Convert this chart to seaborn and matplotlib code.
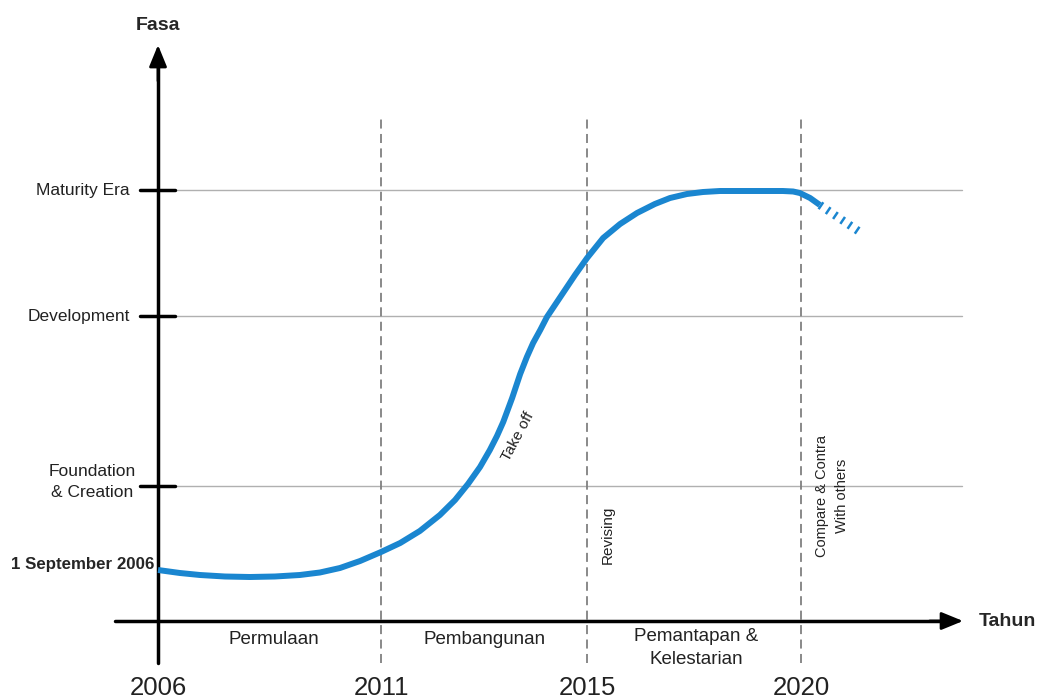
import matplotlib
matplotlib.use("Agg")
import matplotlib.pyplot as plt
import seaborn as sns
import pandas as pd

sns.set_theme(style="white")
plt.rcParams["font.family"] = ["Liberation Sans", "DejaVu Sans"]

# ---- data (x: timeline units, 2006 = 0; y: phase height units) ----
year_labels = ["2006", "2011", "2015", "2020"]
year_pos = [0.0, 5.0, 9.62, 14.42]

phase_labels = ["Foundation\n& Creation", "Development", "Maturity Era"]
phase_levels = [1.35, 3.05, 4.31]

start_label = "1 September 2006"
start_level = 0.51

period_labels = ["Permulaan", "Pembangunan", "Pemantapan &\nKelestarian"]
period_pos = [2.6, 7.33, 12.06]

curve_x = [0.00, 0.49, 0.94, 1.50, 2.06, 2.62, 3.18, 3.63, 4.08, 4.53, 5.00,
           5.43, 5.87, 6.32, 6.66, 6.95, 7.22, 7.44, 7.60, 7.74, 7.94, 8.12,
           8.27, 8.41, 8.57, 8.72, 8.90, 9.08, 9.35, 9.62, 9.98, 10.36, 10.74,
           11.14, 11.48, 11.86, 12.22, 12.60, 14.01, 14.24, 14.39, 14.62, 14.84]
curve_y = [0.51, 0.48, 0.46, 0.445, 0.44, 0.445, 0.46, 0.485, 0.53, 0.60, 0.69,
           0.78, 0.90, 1.06, 1.21, 1.37, 1.54, 1.71, 1.85, 1.99, 2.23, 2.47,
           2.64, 2.78, 2.91, 3.04, 3.16, 3.28, 3.46, 3.63, 3.83, 3.97, 4.08,
           4.17, 4.23, 4.27, 4.29, 4.30, 4.30, 4.295, 4.28, 4.23, 4.16]
future_x = [14.84, 15.8]
future_y = [4.16, 3.87]

df = pd.DataFrame({"x": curve_x, "y": curve_y})
df_future = pd.DataFrame({"x": future_x, "y": future_y})

BLUE = "#1a86d0"

fig = plt.figure(figsize=(10.42, 6.99), dpi=100)
ax = fig.add_axes([0, 0, 1, 1])
ax.set_xlim(-3.543, 19.82)
ax.set_ylim(-0.78, 6.21)

# horizontal phase lines and ticks
for lvl in phase_levels:
    ax.plot([0.38, 18.03], [lvl, lvl], color="#b0b0b0", lw=1.0, zorder=1)
    ax.plot([-0.4, 0.38], [lvl, lvl], color="black", lw=2.5, zorder=3)

# vertical dashed lines
for p in year_pos[1:]:
    ax.plot([p, p], [-0.42, 5.03], color="#808080", lw=1.3,
            linestyle=(0, (5, 3)), zorder=1)

# axes with arrows
ax.plot([0, 0], [-0.42, 5.6], color="black", lw=2.5, zorder=3)
ax.annotate("", xy=(0, 5.76), xytext=(0, 5.4),
            arrowprops=dict(arrowstyle="-|>,head_width=0.45,head_length=1.1",
                            color="black", lw=2.0, shrinkA=0, shrinkB=0), zorder=4)
ax.plot([-0.96, 17.6], [0, 0], color="black", lw=2.5, zorder=3)
ax.annotate("", xy=(18.05, 0), xytext=(17.3, 0),
            arrowprops=dict(arrowstyle="-|>,head_width=0.45,head_length=1.1",
                            color="black", lw=2.0, shrinkA=0, shrinkB=0), zorder=4)

# curve
sns.lineplot(data=df, x="x", y="y", ax=ax, color=BLUE, lw=4.3,
             sort=False, estimator=None, zorder=5)
main = ax.lines[-1]
main.set_solid_joinstyle("round")
main.set_solid_capstyle("butt")
sns.lineplot(data=df_future, x="x", y="y", ax=ax, color=BLUE, lw=6,
             sort=False, estimator=None, zorder=5)
fl = ax.lines[-1]
fl.set_linestyle((0, (0.3, 0.75)))
fl.set_dash_capstyle("butt")
ax.set_xlabel("")
ax.set_ylabel("")
ax.axis("off")

# texts
ax.text(0, 5.96, "Fasa", ha="center", va="center", fontsize=14, fontweight="bold")
ax.text(19.05, 0, "Tahun", ha="center", va="center", fontsize=14, fontweight="bold")

for lbl, lvl in zip(phase_labels, phase_levels):
    if "\n" in lbl:
        ax.text(-1.48, lvl + 0.04, lbl, ha="center", va="center", fontsize=12.5,
                linespacing=1.45, color="#222222")
    else:
        ax.text(-0.63, lvl, lbl, ha="right", va="center", fontsize=12.5,
                color="#222222")
ax.text(-0.08, start_level + 0.05, start_label, ha="right", va="center",
        fontsize=12.2, fontweight="bold")

for lbl, p in zip(year_labels, year_pos):
    ax.text(p, -0.67, lbl, ha="center", va="center", fontsize=18.5, color="#222222")

for lbl, p in zip(period_labels, period_pos):
    yv = -0.19 if "\n" not in lbl else -0.27
    ax.text(p, yv, lbl, ha="center", va="center", fontsize=13.5,
            linespacing=1.45, color="#222222")

ax.text(8.07, 1.84, "Take off", rotation=62, ha="center", va="center",
        fontsize=11, color="#222222")
ax.text(10.09, 0.86, "Revising", rotation=90, ha="center", va="center",
        fontsize=11, color="#222222")
ax.text(15.11, 1.25, "Compare & Contra\nWith others", rotation=90, ha="center",
        va="center", fontsize=10.5, color="#222222", linespacing=1.55)

fig.savefig("out.png", dpi=100)
